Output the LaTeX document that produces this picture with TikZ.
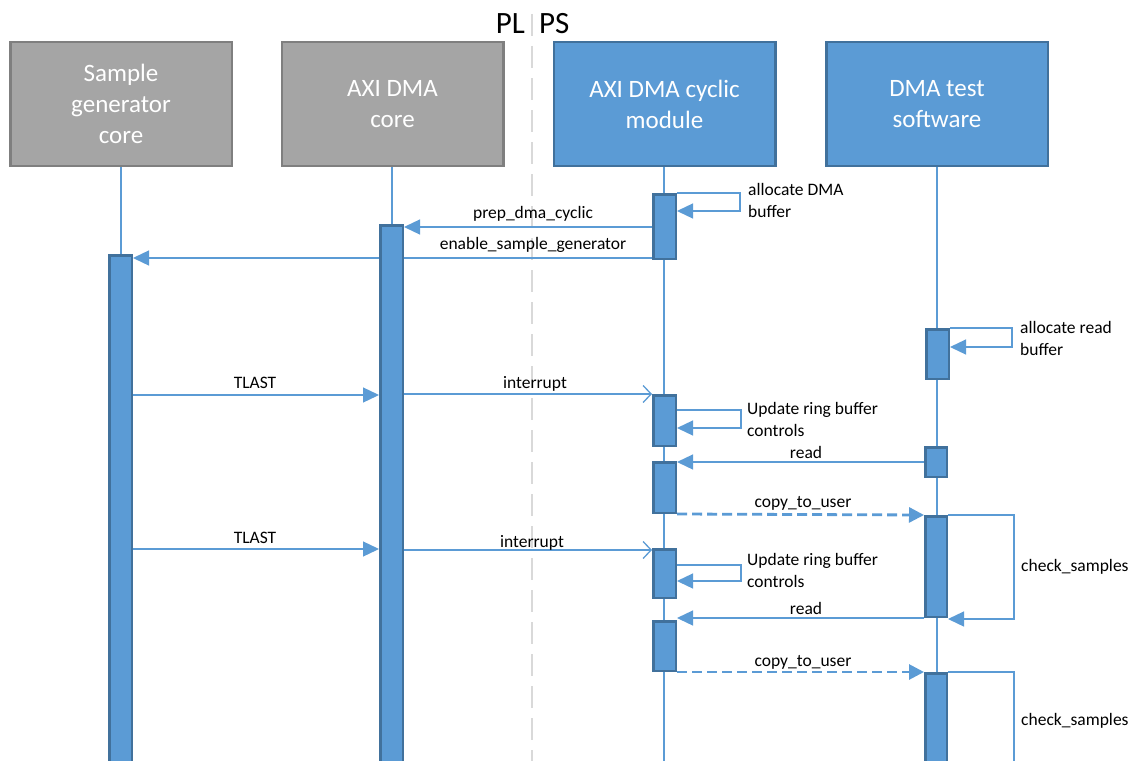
\documentclass[tikz,border=0pt]{standalone}
\usepackage{fontspec}
\setmainfont{Carlito}
\usetikzlibrary{arrows.meta}
\definecolor{blu}{HTML}{5B9BD5}
\definecolor{bluedge}{HTML}{41719C}
\definecolor{gryfill}{HTML}{A5A5A5}
\definecolor{gryedge}{HTML}{7F7F7F}
\definecolor{sepcol}{HTML}{D9D9D9}
\pgfdeclarelayer{back}
\pgfdeclarelayer{bg}
\pgfsetlayers{back,bg,main}
\begin{document}
\begin{tikzpicture}[x=1pt,y=-1pt,
  head/.style={rectangle, line width=2.5pt, minimum width=221.5, minimum height=123.5,
    inner sep=0pt, align=center, text=white, font=\fontsize{25}{31}\selectfont},
  grayhead/.style={head, draw=gryedge, fill=gryfill},
  bluehead/.style={head, draw=bluedge, fill=blu},
  actbar/.style={rectangle, draw=bluedge, fill=blu, line width=2.5pt, minimum width=22.5, inner sep=0pt},
  narrowbar/.style={actbar, minimum width=21.5},
  life/.style={draw=blu, line width=1.2pt},
  msg/.style={draw=blu, line width=1.3pt, -{Triangle[length=16pt,width=15pt]}},
  openmsg/.style={draw=blu, line width=1.3pt, -{Straight Barb[length=8pt,width=17pt]}},
  copymsg/.style={draw=blu, line width=2.8pt, dash pattern=on 10pt off 5pt, -{Triangle[length=15pt,width=15pt]}},
  lbl/.style={inner sep=0pt, font=\fontsize{17.5}{22}\selectfont, text=black},
  lbll/.style={lbl, anchor=west, align=left}
]
\useasboundingbox (0,0) rectangle (1137,760);
\clip (0,0) rectangle (1137,760);
\begin{pgfonlayer}{back}
\fill[white] (0,0) rectangle (1137,760);
\end{pgfonlayer}

% PL | PS separator
\begin{pgfonlayer}{bg}
\coordinate (septop) at (532,14);
\coordinate (sepbot) at (532,770);
\draw[sepcol, line width=2.2pt, dash pattern=on 22pt off 10pt] (septop) -- (sepbot);
\end{pgfonlayer}
\node[anchor=base east, inner sep=0pt, font=\fontsize{31}{31}\selectfont] (pl) at (525,34) {PL};
\node[anchor=base west, inner sep=0pt, font=\fontsize{31}{31}\selectfont] (ps) at (539,34) {PS};

% headers
\node[grayhead] (h1) at (121,104) {Sample\\generator\\core};
\node[grayhead] (h2) at (392.5,104) {AXI DMA\\core};
\node[bluehead] (h3) at (664.5,104) {AXI DMA cyclic\\module};
\node[bluehead] (h4) at (937,104) {DMA test\\software};

% lifeline ends
\coordinate (e1) at (121,770);
\coordinate (e2) at (392,770);
\coordinate (e3) at (664,770);
\coordinate (e4) at (937,770);
\begin{pgfonlayer}{bg}
\draw[life] (h1.south -| e1) -- (e1);
\draw[life] (h2.south -| e2) -- (e2);
\draw[life] (h3.south -| e3) -- (e3);
\draw[life] (h4.south -| e4) -- (e4);
\end{pgfonlayer}

% activation bars
\node[actbar, minimum height=513.5] (b1) at (120.5,512) {};
\node[actbar, minimum height=543.5] (b2) at (391.5,497) {};
\node[actbar, minimum height=64.5] (c1) at (664.5,226.5) {};
\node[actbar, minimum height=50.5] (c2) at (664.5,420.5) {};
\node[actbar, minimum height=50.5] (c3) at (664.5,487.5) {};
\node[actbar, minimum height=48.5] (c4) at (664.5,573.5) {};
\node[actbar, minimum height=49.5] (c5) at (664.5,646) {};
\node[actbar, minimum height=49.5] (d1) at (937.5,354) {};
\node[narrowbar, minimum height=29.5] (d2) at (936,462) {};
\node[narrowbar, minimum height=100.5] (d3) at (936,566.5) {};
\node[narrowbar, minimum height=95.5] (d4) at (936,721) {};

% allocate DMA buffer
\draw[msg] (c1.north east) -- ++(63,0) |- (c1.east |- 0,211);
\node[lbll] (lalloc) at (748,200) {allocate DMA\\buffer};

% prep_dma_cyclic
\draw[msg] (c1.west |- 0,227) -- (b2.east |- 0,227);
\node[lbl] (lprep) at (533,214) {prep\_dma\_cyclic};

% enable_sample_generator
\begin{pgfonlayer}{bg}
\draw[msg] (c1.west |- 0,258) -- (b1.east |- 0,258);
\end{pgfonlayer}
\node[lbl] (lenable) at (533,245) {enable\_sample\_generator};

% allocate read buffer
\draw[msg] (d1.north east) -- ++(62,0) |- (d1.east |- 0,347);
\node[lbll] (lread) at (1020,338) {allocate read\\buffer};

% first cycle
\draw[msg] (b1.east |- 0,395) -- (b2.west |- 0,395);
\node[lbl] (ltlast1) at (255,383) {TLAST};
\draw[openmsg] (b2.east |- 0,394) -- (c2.west |- 0,394);
\node[lbl] (lint1) at (535,384) {interrupt};
\draw[msg] (c2.east |- 0,410) -- (741,410) |- (c2.east |- 0,428);
\node[lbll] (lupd1) at (747,419) {Update ring buffer\\controls};
\draw[msg] (d2.west) -- (c3.east |- d2.west);
\node[lbl] (lrd1) at (806,452) {read};
\draw[copymsg] (c3.south east) -- (d3.north west);
\node[lbl] (lcp1) at (803,503) {copy\_to\_user};
\draw[msg] (d3.north east) -- (1014,515) |- (d3.east |- 0,619);
\node[lbll] (lchk1) at (1021,567) {check\_samples};

% second cycle
\draw[msg] (b1.east |- 0,549) -- (b2.west |- 0,549);
\node[lbl] (ltlast2) at (255,538) {TLAST};
\draw[openmsg] (b2.east |- 0,550) -- (c4.west |- 0,550);
\node[lbl] (lint2) at (532,543) {interrupt};
\draw[msg] (c4.east |- 0,565) -- (741,565) |- (c4.east |- 0,581);
\node[lbll] (lupd2) at (747,570) {Update ring buffer\\controls};
\draw[msg] (d3.south west) -- (c5.east |- d3.south west);
\node[lbl] (lrd2) at (806,608) {read};
\draw[copymsg] (c5.south east) -- (d4.north west);
\node[lbl] (lcp2) at (803,662) {copy\_to\_user};
\draw[blu, line width=1.3pt] (d4.north east) -- (1014,672) -- (1014,770);
\node[lbll] (lchk2) at (1021,721) {check\_samples};
\end{tikzpicture}
\end{document}
